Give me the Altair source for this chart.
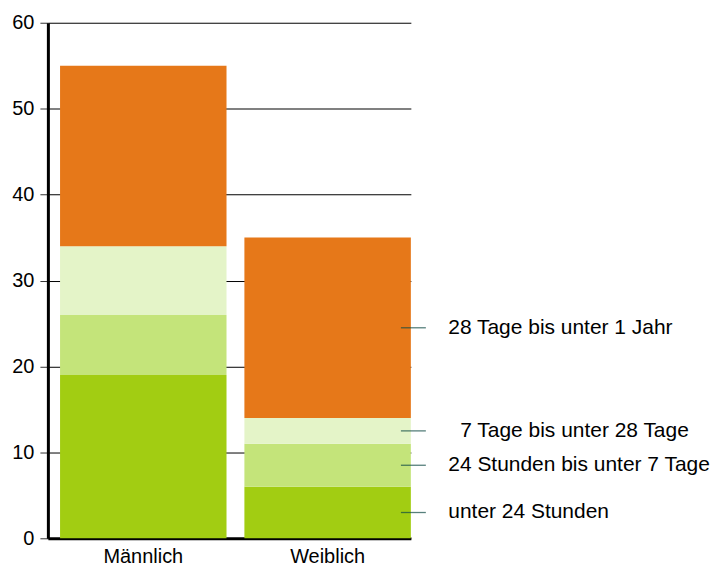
import altair as alt
import pandas as pd

geschlecht = ["Männlich", "Weiblich"]
kategorien = ["unter 24 Stunden", "24 Stunden bis unter 7 Tage",
              "7 Tage bis unter 28 Tage", "28 Tage bis unter 1 Jahr"]
einzug = [0, 0, 12, 0]
werte_m = [19, 7, 8, 21]
werte_w = [6, 5, 3, 21]
farben = ["#A2CD12", "#C4E47A", "#E4F4C8", "#E67819"]

rows = []
for g, werte in zip(geschlecht, [werte_m, werte_w]):
    cum = 0
    for i, (k, e, v) in enumerate(zip(kategorien, einzug, werte)):
        rows.append({"g": g, "k": k, "e": e, "v": v, "o": i, "mid": cum + v / 2})
        cum += v
df = pd.DataFrame(rows)

FONT = "Liberation Sans"

x = alt.X("g:N", sort=geschlecht, title=None,
          scale=alt.Scale(paddingInner=0.097, paddingOuter=0.033, align=1),
          axis=alt.Axis(labelAngle=0, labelFontSize=20, labelColor="#000",
                        labelFont=FONT, ticks=False, domainColor="#000",
                        domainWidth=3, labelPadding=8))

base = alt.Chart(df)

bars = base.mark_bar(stroke=None).encode(
    x=x,
    y=alt.Y("v:Q", stack="zero", title=None,
            scale=alt.Scale(domain=[0, 60]),
            axis=alt.Axis(values=[0, 10, 20, 30, 40, 50, 60], grid=True,
                          gridColor="#000", gridWidth=1, domainColor="#000",
                          domainWidth=3, tickColor="#333", tickSize=8,
                          labelFontSize=20, labelColor="#000", labelFont=FONT,
                          labelPadding=6)),
    color=alt.Color("k:N", sort=kategorien, legend=None,
                    scale=alt.Scale(domain=kategorien, range=farben)),
    order=alt.Order("o:Q"),
)

wf = base.transform_filter(alt.datum.g == "Weiblich")

ticks = wf.mark_tick(orient="horizontal", size=25, thickness=1.3,
                     color="#0F4A44", xOffset=86).encode(
    x=alt.X("g:N", sort=geschlecht),
    y=alt.Y("mid:Q"),
)

labels = wf.transform_filter(alt.datum.e == 0).mark_text(
    align="left", baseline="middle", fontSize=21,
    font=FONT, color="#000", dx=121).encode(
    x=alt.X("g:N", sort=geschlecht),
    y=alt.Y("mid:Q"),
    text="k:N",
)

labels_eingezogen = wf.transform_filter(alt.datum.e > 0).mark_text(
    align="left", baseline="middle", fontSize=21,
    font=FONT, color="#000", dx=133).encode(
    x=alt.X("g:N", sort=geschlecht),
    y=alt.Y("mid:Q"),
    text="k:N",
)

chart = alt.layer(bars, ticks, labels, labels_eingezogen).properties(
    width=364, height=517,
    padding={"left": 3, "top": 4, "right": 2, "bottom": 0},
).configure_view(stroke=None).configure_axis(gridOpacity=1)

chart.save("out.html", embed_options={"renderer": "svg", "actions": False})
